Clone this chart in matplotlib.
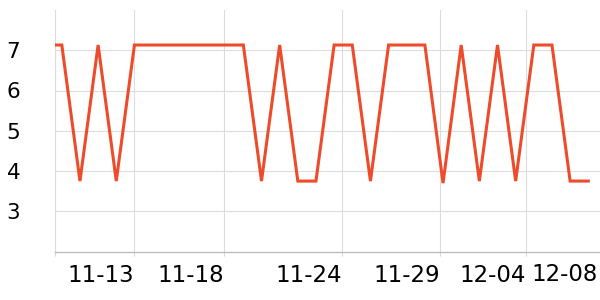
import matplotlib
matplotlib.use("Agg")
import matplotlib.pyplot as plt
import pandas as pd

# Data
first_time = "2023-11-08 15:00"
dates = [first_time] + [d.strftime("%Y-%m-%d %H:%M") for d in pd.date_range("2023-11-09", "2023-12-08", freq="D")]
values = [7.13, 7.13, 3.75, 7.13, 3.75, 7.13, 7.13, 7.13, 7.13, 7.13, 7.13,
          7.13, 3.75, 7.13, 3.75, 3.75, 7.13, 7.13, 3.75, 7.13, 7.13,
          7.13, 3.7, 7.13, 3.75, 7.13, 3.75, 7.13, 7.13, 3.75, 3.75]

tick_times = ["2023-11-08 15:00", "2023-11-13 00:00", "2023-11-17 22:30",
              "2023-11-24 10:30", "2023-11-29 19:30", "2023-12-04 13:30"]
tick_labels = ["", "11-13", "11-18", "11-24", "11-29", "12-04"]
extra_tick_time = "2023-12-08 12:00"
extra_tick_label = "12-08"
x_end = "2023-12-08 15:30"
y_ticks = [3, 4, 5, 6, 7]

x = pd.to_datetime(dates, format="mixed")

fig = plt.figure(figsize=(6, 3), dpi=100)
ax = fig.add_axes([55/600, 48.5/300, 545/600, 241.5/300])

ax.plot(x, values, color="#EE4B2B", linewidth=2.2, solid_joinstyle="miter", zorder=3)

ax.set_xlim(pd.Timestamp(first_time), pd.Timestamp(x_end))
ax.set_ylim(2, 8)

ax.set_xticks(pd.to_datetime(tick_times))
ax.set_xticklabels(tick_labels, ha="right")
ax.set_xticks([pd.Timestamp(extra_tick_time)], minor=True)
ax.set_xticklabels([extra_tick_label], minor=True, ha="right")
ax.set_yticks(y_ticks)
ax.set_yticklabels([str(v) for v in y_ticks])

ax.tick_params(axis="x", which="major", length=3, width=0.8, color="#d9d9d9",
               pad=6, labelsize=16.5, labelcolor="black")
ax.tick_params(axis="x", which="minor", length=0, pad=8.2, labelsize=16.5)
ax.tick_params(axis="y", length=0, pad=25, labelsize=15.5, labelcolor="black")

ax.grid(True, which="major", color="#dcdcdc", linewidth=0.8)
ax.set_axisbelow(True)

for s in ["top", "right"]:
    ax.spines[s].set_visible(False)
ax.spines["left"].set_color("#dcdcdc")
ax.spines["left"].set_linewidth(0.8)
ax.spines["bottom"].set_color("#bdbdbd")
ax.spines["bottom"].set_linewidth(1.0)

fig.savefig("out.png", dpi=100)
